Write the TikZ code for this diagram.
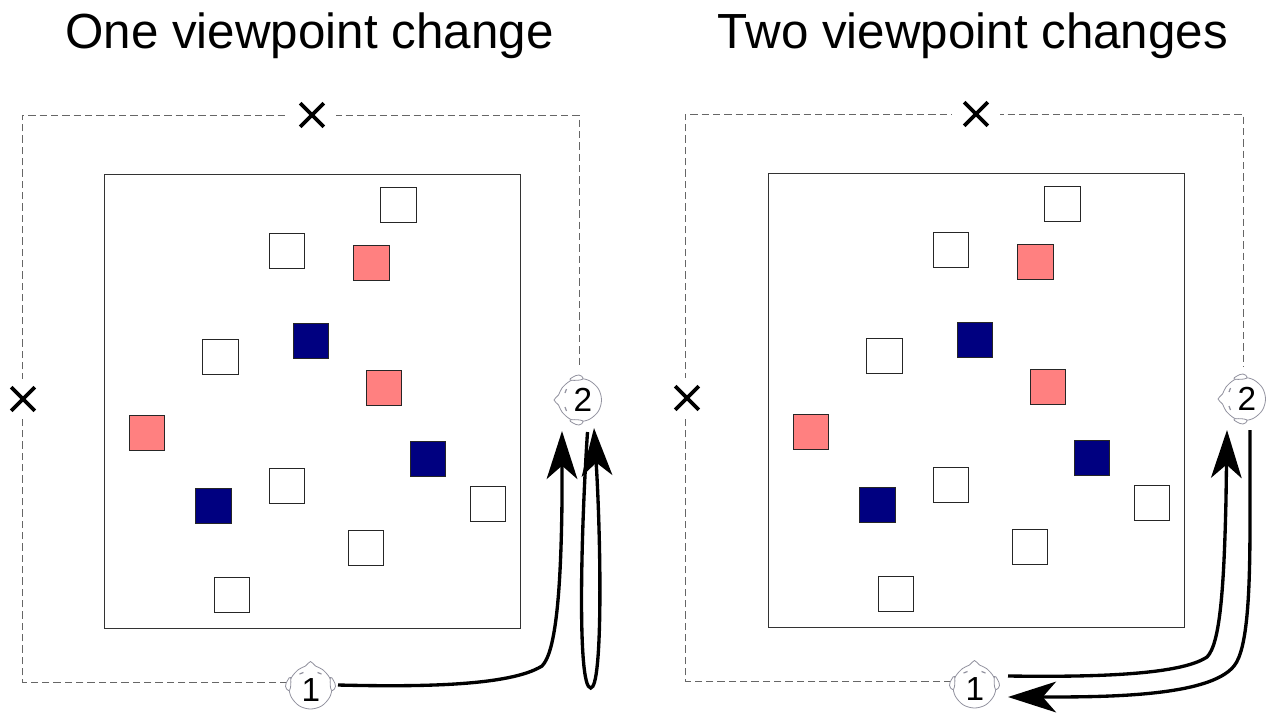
\documentclass[tikz,border=0pt]{standalone}
\usepackage{fontspec}
\setmainfont{Liberation Sans}
\usetikzlibrary{arrows.meta,shapes.misc}
\tikzset{
  px/.style={x=0.75pt,y=-0.75pt},
  frame/.style={draw=black!80,line width=0.6pt,fill=white},
  sq/.style={draw=black!85,line width=0.55pt,minimum size=26.6pt,inner sep=0pt,outer sep=0pt},
  plain/.style={sq,fill=white},
  redsq/.style={sq,fill=red!50!white},
  navysq/.style={sq,fill=blue!50!black},
  viewline/.style={draw=black!60,line width=0.75pt,dash pattern=on 5.5pt off 3pt},
  gap/.style={fill=white,inner sep=0pt,minimum size=36pt},
  crossmark/.style={cross out,draw=black,line width=2.7pt,minimum size=15pt,inner sep=0pt},
  headnode/.style={circle,minimum size=32pt,inner sep=0pt,font=\fontsize{25}{25}\selectfont},
  headline/.style={draw=black!35!blue!12!white!65!black,line width=0.6pt},
  route/.style={draw=black,line width=2.5pt,line cap=butt},
  tip/.style={-{Stealth[length=36pt,width=23pt,inset=10pt]}},
  title/.style={font=\fontsize{37}{39}\selectfont,text=black}
}
\newcommand{\headoutline}[2]{%
  \begin{scope}[shift={(#1)},rotate=#2]
    \draw[headline,fill=white] plot[smooth cycle,tension=.55] coordinates {(0,-26) (-5,-21.5) (-12,-18) (-19,-10) (-21.5,0) (-19,10) (-11,18.5) (0,21.5) (11,18.5) (19,10) (21.5,0) (19,-10) (12,-18) (5,-21.5)};
    \draw[headline,fill=white] plot[smooth cycle,tension=.7] coordinates {(-20,-10) (-23,-7) (-25,-1) (-22,3) (-20,0)};
    \draw[headline,fill=white] plot[smooth cycle,tension=.7] coordinates {(20,-10) (23,-7) (25,-1) (22,3) (20,0)};
    \draw[headline,line width=0.9pt] (-11,-13.5) -- (-7,-15);
    \draw[headline,line width=0.9pt] (11,-13.5) -- (7,-15);
  \end{scope}}
\newcommand{\panel}[2]{%
  \draw[frame] (104,174) rectangle (520,628);
  \node[plain] (s#1a) at (398.5,205) {};
  \node[plain] (s#1b) at (287,251) {};
  \node[redsq] (s#1c) at (371.5,263) {};
  \node[navysq] (s#1d) at (311,341) {};
  \node[plain] (s#1e) at (220.5,357) {};
  \node[redsq] (s#1f) at (384,388) {};
  \node[redsq] (s#1g) at (147,433) {};
  \node[navysq] (s#1h) at (428,459) {};
  \node[plain] (s#1i) at (287,486) {};
  \node[navysq] (s#1j) at (213.5,506) {};
  \node[plain] (s#1k) at (488,504) {};
  \node[plain] (s#1l) at (366,548) {};
  \node[plain] (s#1m) at (232,595) {};
  \coordinate (d#1a) at (#2,682);
  \coordinate (d#1b) at (#2,115);
  \coordinate (d#1c) at (579,115);
  \coordinate (d#1d) at (579,368);
  \node[headnode] (h#1a) at (310.5,687.5) {};
  \node[headnode] (h#1b) at (580,400) {};
  \draw[viewline] (310,682) -- (d#1a) -- (d#1b) -- (d#1c) -- (d#1d);
  \node[gap,minimum width=36pt,minimum height=20pt] (g#1a) at (312,115) {};
  \node[gap,minimum width=24pt,minimum height=30pt] (g#1b) at (22,399) {};
  \node[crossmark] (x#1a) at (312,115) {};
  \node[crossmark] (x#1b) at (23,399) {};
  \headoutline{h#1a.center}{0}
  \headoutline{h#1b.center}{90}
  \node[headnode,text=black] at (311,690) {1};
  \node[headnode,text=black] at (583,400) {2};
}
\begin{document}
\begin{tikzpicture}[px]
\useasboundingbox[fill=white] (0,0) rectangle (1271,715);
\node[title] (t1) at (309.5,36) {One viewpoint change};
\node[title] (t2) at (973,36) {Two viewpoint changes};
\begin{scope}
  \panel{L}{22}
  \coordinate (a1s) at (338,685);
  \coordinate (a1e) at (562,431);
  \coordinate (a2s) at (587.5,432);
  \coordinate (a2e) at (594,428);
  \draw[route,tip] (a1s) .. controls (420,687) and (510,686) .. (542,666)
     .. controls (556,652) and (561,590) .. (562,500) -- (a1e);
  \draw[route,tip] (a2s) .. controls (581,530) and (577,688) .. (590.7,688)
     .. controls (603,688) and (601,540) .. (a2e);
\end{scope}
\begin{scope}[shift={(664,-1)}]
  \panel{R}{21}
  \coordinate (b1s) at (344,677);
  \coordinate (b1e) at (563,431);
  \coordinate (b2s) at (586,431);
  \coordinate (b2e) at (344,698);
  \draw[route,tip] (b1s) .. controls (420,678) and (515,677) .. (543,658)
     .. controls (556,645) and (560,590) .. (562,500) -- (b1e);
  \draw[route,tip] (b2s) -- (586,520) .. controls (586,590) and (584,650) .. (570,667)
     .. controls (545,698) and (440,698) .. (b2e);
\end{scope}
\end{tikzpicture}
\end{document}
